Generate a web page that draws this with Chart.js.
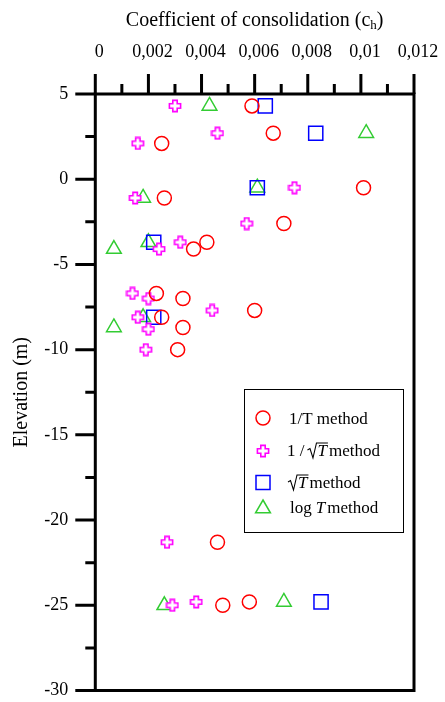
<!DOCTYPE html>
<html>
<head>
<meta charset="utf-8">
<script src="https://cdn.jsdelivr.net/npm/chart.js@4/dist/chart.umd.min.js"></script>
<style>
  html, body { margin: 0; padding: 0; background: #fff; }
  #wrap { width: 445px; height: 702px; }
</style>
</head>
<body>
<div id="wrap"><canvas id="grafico" width="445" height="702"></canvas></div>
<script>
// elevations (m) and coefficient of consolidation ch, one pair of arrays per method
var elevInvT = [4.3, 2.1, 2.7, -1.1, -0.5, -2.6, -3.7, -4.1, -6.7, -7.0, -8.1, -7.7, -8.7, -10.0, -21.3, -25.0, -24.8];
var chInvT   = [0.0059, 0.0025, 0.0067, 0.0026, 0.0101, 0.0071, 0.0042, 0.0037, 0.0023, 0.0033, 0.0025, 0.0060, 0.0033, 0.0031, 0.0046, 0.0048, 0.0058];

var elevInvSqrtT = [4.3, 2.7, 2.1, -0.5, -1.1, -2.6, -3.7, -4.1, -6.7, -7.0, -7.7, -8.1, -8.8, -10.0, -21.3, -24.8, -25.0];
var chInvSqrtT   = [0.0030, 0.0046, 0.0016, 0.0075, 0.0015, 0.0057, 0.0032, 0.0024, 0.0014, 0.0020, 0.0044, 0.0016, 0.0020, 0.0019, 0.0027, 0.0038, 0.0029];

var elevSqrtT = [4.3, 2.7, -0.5, -3.7, -8.1, -24.8];
var chSqrtT   = [0.0064, 0.0083, 0.0061, 0.0022, 0.0022, 0.0085];

var elevLogT = [4.3, 2.7, -0.5, -1.1, -3.7, -4.1, -8.1, -8.7, -25.0, -24.8];
var chLogT   = [0.0043, 0.0102, 0.0061, 0.0018, 0.0020, 0.0007, 0.0018, 0.0007, 0.0026, 0.0071];

var xTickValues = [0, 0.002, 0.004, 0.006, 0.008, 0.010, 0.012];
var xTickLabels = ['0', '0,002', '0,004', '0,006', '0,008', '0,01', '0,012'];
var yTickValues = [5, 0, -5, -10, -15, -20, -25, -30];
var yTickLabels = ['5', '0', '-5', '-10', '-15', '-20', '-25', '-30'];

var serif = "'Liberation Serif', 'Times New Roman', serif";
Chart.defaults.font.family = serif;
Chart.defaults.color = '#000';

function pairs(xs, ys) {
    var out = [];
    xs.forEach(function (v, i) { out.push({x: v, y: ys[i]}); });
    return out;
}

// hollow plus marker
function makePlus(color) {
    var c = document.createElement('canvas');
    c.width = 14; c.height = 14;
    var g = c.getContext('2d');
    var m = 7, a = 2.2, l = 5.6;
    g.beginPath();
    g.moveTo(m - a, m - l); g.lineTo(m + a, m - l); g.lineTo(m + a, m - a);
    g.lineTo(m + l, m - a); g.lineTo(m + l, m + a); g.lineTo(m + a, m + a);
    g.lineTo(m + a, m + l); g.lineTo(m - a, m + l); g.lineTo(m - a, m + a);
    g.lineTo(m - l, m + a); g.lineTo(m - l, m - a); g.lineTo(m - a, m - a);
    g.closePath();
    g.fillStyle = '#fff'; g.fill();
    g.strokeStyle = color; g.lineWidth = 1.6; g.stroke();
    return c;
}
var plusImg = makePlus('#ff00ff');

var RED = '#ff0000', MAG = '#ff00ff', BLUE = '#0000ff', GREEN = '#33cc33';

function drawRadical(ctx, x, base, inner) {
    ctx.beginPath();
    ctx.moveTo(x, base - 6);
    ctx.lineTo(x + 2.5, base - 7.5);
    ctx.lineTo(x + 5.5, base + 2);
    ctx.lineTo(x + 9, base - 13);
    ctx.lineTo(x + 11 + inner, base - 13);
    ctx.lineWidth = 1.1;
    ctx.strokeStyle = '#000';
    ctx.stroke();
    return x + 10;
}

function noPad(s) {
    s.paddingLeft = 0; s.paddingRight = 0; s.paddingTop = 0; s.paddingBottom = 0;
}

var framePlugin = {
    id: 'frame',
    afterDraw: function (chart) {
        var ctx = chart.ctx, a = chart.chartArea;
        var xs = chart.scales.x, ys = chart.scales.y;
        ctx.save();

        // ticks: major every label, minor half way
        ctx.strokeStyle = '#000';
        ctx.lineWidth = 3;
        ctx.beginPath();
        for (var i = 0; i < xTickValues.length; i++) {
            var px = xs.getPixelForValue(xTickValues[i]);
            ctx.moveTo(px, a.top); ctx.lineTo(px, a.top - 20);
            if (i < xTickValues.length - 1) {
                var pm = xs.getPixelForValue((xTickValues[i] + xTickValues[i + 1]) / 2);
                ctx.moveTo(pm, a.top); ctx.lineTo(pm, a.top - 10);
            }
        }
        for (var j = 0; j < yTickValues.length; j++) {
            var py = ys.getPixelForValue(yTickValues[j]);
            ctx.moveTo(a.left, py); ctx.lineTo(a.left - 20, py);
            if (j < yTickValues.length - 1) {
                var qm = ys.getPixelForValue((yTickValues[j] + yTickValues[j + 1]) / 2);
                ctx.moveTo(a.left, qm); ctx.lineTo(a.left - 10, qm);
            }
        }
        ctx.stroke();
        ctx.strokeRect(a.left, a.top, a.right - a.left, a.bottom - a.top);

        // top axis title with subscript
        var main = 'Coefficient of consolidation (c';
        ctx.fillStyle = '#000';
        ctx.textBaseline = 'alphabetic';
        ctx.textAlign = 'left';
        ctx.font = '20px ' + serif;
        var w1 = ctx.measureText(main).width;
        var w3 = ctx.measureText(')').width;
        ctx.font = '13px ' + serif;
        var w2 = ctx.measureText('h').width;
        var tx = (a.left + a.right) / 2 - (w1 + w2 + w3) / 2;
        ctx.font = '20px ' + serif;
        ctx.fillText(main, tx, 26);
        ctx.font = '13px ' + serif;
        ctx.fillText('h', tx + w1, 29);
        ctx.font = '20px ' + serif;
        ctx.fillText(')', tx + w1 + w2, 26);

        // legend
        ctx.lineWidth = 1;
        ctx.strokeStyle = '#000';
        ctx.strokeRect(244.5, 389.5, 159, 143);

        ctx.lineWidth = 1.5;
        ctx.strokeStyle = RED;
        ctx.beginPath(); ctx.arc(263, 418, 7, 0, Math.PI * 2); ctx.stroke();
        ctx.drawImage(plusImg, 263 - 7, 451 - 7);
        ctx.strokeStyle = BLUE;
        ctx.strokeRect(256, 475.5, 14, 14);
        ctx.strokeStyle = GREEN;
        ctx.beginPath();
        ctx.moveTo(263, 500); ctx.lineTo(270.4, 512.8); ctx.lineTo(255.6, 512.8); ctx.closePath();
        ctx.stroke();

        var up = '17px ' + serif, it = 'italic 17px ' + serif;
        ctx.fillStyle = '#000';
        ctx.font = up;
        ctx.fillText('1/T method', 289, 423.5);

        var x2 = 287;
        ctx.font = up; ctx.fillText('1 /', x2, 456);
        x2 += ctx.measureText('1 /').width + 3;
        ctx.font = it;
        var tw = ctx.measureText('T').width;
        x2 = drawRadical(ctx, x2, 456, tw);
        ctx.fillText('T', x2, 456);
        x2 += tw + 2;
        ctx.font = up; ctx.fillText('method', x2, 456);

        var x3 = 288;
        ctx.font = it;
        x3 = drawRadical(ctx, x3, 488, tw);
        ctx.fillText('T', x3, 488);
        x3 += tw + 2;
        ctx.font = up; ctx.fillText('method', x3, 488);

        var x4 = 290;
        ctx.font = up; ctx.fillText('log', x4, 513);
        x4 += ctx.measureText('log').width + 4;
        ctx.font = it; ctx.fillText('T', x4, 513);
        x4 += tw + 2;
        ctx.font = up; ctx.fillText('method', x4, 513);

        ctx.restore();
    }
};

var myChart = new Chart(document.getElementById('grafico'), {
    type: 'scatter',
    data: {
        datasets: [
            {
                label: '1/T method',
                data: pairs(chInvT, elevInvT),
                pointStyle: 'circle',
                pointRadius: 7,
                pointBorderWidth: 1.5,
                borderColor: RED,
                backgroundColor: 'rgba(0,0,0,0)'
            },
            {
                label: '1/sqrt(T) method',
                data: pairs(chInvSqrtT, elevInvSqrtT),
                pointStyle: plusImg,
                pointRadius: 7,
                borderColor: MAG,
                backgroundColor: MAG
            },
            {
                label: 'sqrt(T) method',
                data: pairs(chSqrtT, elevSqrtT),
                pointStyle: 'rect',
                pointRadius: 10,
                pointBorderWidth: 1.5,
                borderColor: BLUE,
                backgroundColor: 'rgba(0,0,0,0)'
            },
            {
                label: 'log T method',
                data: pairs(chLogT, elevLogT),
                pointStyle: 'triangle',
                pointRadius: 8.5,
                pointBorderWidth: 1.5,
                borderColor: GREEN,
                backgroundColor: 'rgba(0,0,0,0)'
            }
        ]
    },
    options: {
        responsive: false,
        animation: false,
        layout: {padding: {left: 0, top: 0, right: 31, bottom: 10.5}},
        plugins: {legend: {display: false}, tooltip: {enabled: false}},
        scales: {
            x: {
                type: 'linear',
                position: 'top',
                min: 0,
                max: 0.012,
                afterBuildTicks: function (s) { s.ticks = xTickValues.map(function (v) { return {value: v}; }); },
                afterFit: function (s) { s.height = 94; noPad(s); },
                grid: {display: false, drawTicks: false},
                border: {display: false},
                ticks: {
                    autoSkip: false,
                    maxRotation: 0,
                    padding: 31,
                    labelOffset: 4,
                    font: {size: 18},
                    color: '#000',
                    callback: function (v, i) { return xTickLabels[i]; }
                }
            },
            y: {
                type: 'linear',
                min: -30,
                max: 5,
                afterBuildTicks: function (s) { s.ticks = yTickValues.map(function (v) { return {value: v}; }); },
                afterFit: function (s) { s.width = 95.3; noPad(s); },
                grid: {display: false, drawTicks: false},
                border: {display: false},
                title: {display: true, text: 'Elevation (m)', font: {size: 20}, color: '#000', padding: {top: 10, bottom: 0}},
                ticks: {
                    autoSkip: false,
                    padding: 27,
                    font: {size: 18},
                    color: '#000',
                    callback: function (v, i) { return yTickLabels[i]; }
                }
            }
        }
    },
    plugins: [framePlugin]
});
</script>
</body>
</html>
